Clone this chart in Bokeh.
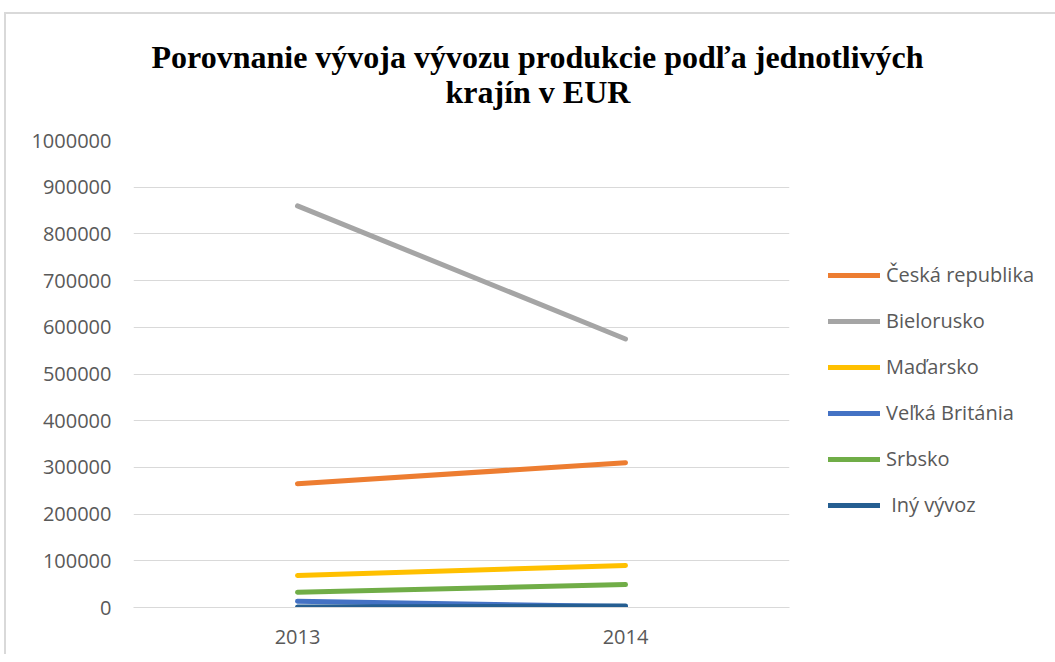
from bokeh.plotting import figure
from bokeh.models import Range1d, FactorRange, FixedTicker, Legend, LegendItem, Title
from bokeh.embed import file_html
from bokeh.resources import INLINE

years = ["2013", "2014"]
series_names = ["Česká republika", "Bielorusko", "Maďarsko", "Veľká Británia", "Srbsko", " Iný vývoz"]
ceska = [265000, 310000]
bielorusko = [860000, 575000]
madarsko = [68500, 90000]
velka_britania = [13500, 2000]
srbsko = [32700, 49000]
iny_vyvoz = [1000, 3000]
series_values = [ceska, bielorusko, madarsko, velka_britania, srbsko, iny_vyvoz]
colors = ["#ED7D31", "#A5A5A5", "#FFC000", "#4472C4", "#70AD47", "#255E91"]
y_ticks = [0, 100000, 200000, 300000, 400000, 500000, 600000, 700000, 800000, 900000, 1000000]
y_tick_labels = ["0", "100000", "200000", "300000", "400000", "500000", "600000", "700000", "800000", "900000", "1000000"]
title_lines = ["Porovnanie vývoja vývozu produkcie podľa jednotlivých", "krajín v EUR"]

p = figure(frame_width=656, frame_height=467, x_range=FactorRange(*years, range_padding=0),
           y_range=Range1d(0, 1000000), output_backend="svg", toolbar_location=None,
           min_border_left=127, min_border_right=257, min_border_top=126, min_border_bottom=47)
p.styles = {"border-top": "2px solid #d9d9d9", "border-left": "2px solid #d9d9d9",
            "margin-left": "4px", "margin-top": "12px"}
p.outline_line_color = None
p.background_fill_color = "white"
p.border_fill_color = "white"

items = []
for name, vals, c in zip(series_names, series_values, colors):
    r = p.line(years, vals, line_color=c, line_width=5, line_cap="round")
    items.append(LegendItem(label=name, renderers=[r]))

# axes
p.yaxis.ticker = FixedTicker(ticks=y_ticks)
p.yaxis.major_label_overrides = {t: l for t, l in zip(y_ticks, y_tick_labels)}
p.yaxis.axis_line_color = None
p.yaxis.major_tick_line_color = None
p.yaxis.minor_tick_line_color = None
p.yaxis.major_tick_out = 0
p.yaxis.major_label_standoff = 22
p.yaxis.major_label_text_font = "Open Sans"
p.yaxis.major_label_text_font_size = "20px"
p.yaxis.major_label_text_color = "#595959"

p.xaxis.axis_line_color = "#d9d9d9"
p.xaxis.major_tick_line_color = None
p.xaxis.minor_tick_line_color = None
p.xaxis.major_tick_out = 0
p.xaxis.major_label_standoff = 22
p.xaxis.major_label_text_font = "Open Sans"
p.xaxis.major_label_text_font_size = "20px"
p.xaxis.major_label_text_color = "#595959"

p.xgrid.grid_line_color = None
p.ygrid.ticker = FixedTicker(ticks=y_ticks)
p.ygrid.grid_line_color = "#d9d9d9"
p.ygrid.grid_line_width = 1

legend = Legend(items=items, location=(39, 89), orientation="vertical",
                glyph_width=52, glyph_height=20, label_height=20, spacing=19,
                label_standoff=6, padding=0, margin=0,
                border_line_color=None, background_fill_alpha=0,
                label_text_font="Open Sans", label_text_font_size="20px",
                label_text_color="#595959")
p.add_layout(legend, "right")

# title: second line added first (closest to the frame)
for txt, off, so in [(title_lines[1], 312, 61), (title_lines[0], 18, -66)]:
    p.add_layout(Title(text=txt, align="left", offset=off, standoff=so,
                       text_font="Liberation Serif", text_font_style="bold",
                       text_font_size="32px", text_color="black"), "above")

open("out.html", "w").write(file_html(p, INLINE))
